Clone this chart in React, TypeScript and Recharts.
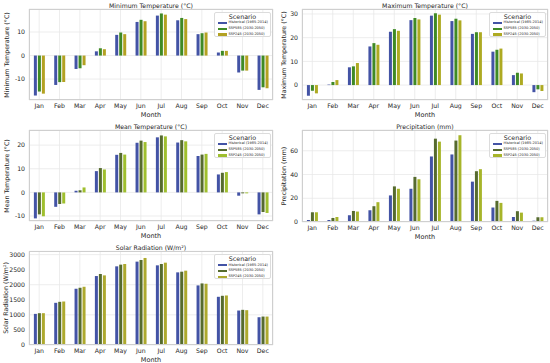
import React from "react";
import { Bar, BarChart, CartesianGrid, XAxis, YAxis } from "recharts";

const months = ["Jan", "Feb", "Mar", "Apr", "May", "Jun", "Jul", "Aug", "Sep", "Oct", "Nov", "Dec"];
const scenarios = ["Historical (1985-2014)", "SSP585 (2030-2050)", "SSP245 (2030-2050)"];

const minHist = [-17.0, -12.5, -5.7, 1.8, 8.8, 14.3, 17.0, 15.0, 9.1, 1.3, -7.2, -14.6];
const min585 = [-15.3, -11.3, -5.4, 3.1, 9.8, 15.2, 17.9, 16.0, 9.5, 2.0, -6.4, -13.5];
const min245 = [-16.2, -11.2, -4.1, 2.7, 9.1, 14.6, 17.4, 15.5, 9.8, 2.0, -6.4, -13.9];

const maxHist = [-4.5, 0.2, 7.5, 16.3, 22.5, 27.4, 29.3, 27.0, 21.6, 14.1, 4.2, -3.0];
const max585 = [-2.4, 1.3, 7.9, 17.7, 23.6, 28.3, 30.3, 28.0, 22.3, 14.9, 5.2, -1.8];
const max245 = [-3.5, 2.1, 9.3, 17.0, 22.9, 27.7, 29.7, 27.3, 22.3, 15.4, 4.9, -2.5];

const meanHist = [-11.0, -6.1, 0.7, 9.0, 15.9, 21.0, 23.3, 21.1, 15.4, 7.6, -1.4, -9.3];
const mean585 = [-9.3, -4.9, 0.9, 10.3, 16.7, 21.9, 24.1, 22.1, 16.0, 8.3, -0.4, -8.3];
const mean245 = [-10.1, -4.7, 2.1, 9.7, 16.0, 21.3, 23.7, 21.6, 16.3, 8.6, -0.4, -8.7];

const precHist = [1.7, 1.7, 5.7, 9.9, 22.4, 28.0, 55.2, 56.9, 34.0, 12.2, 4.2, 1.1];
const prec585 = [8.2, 3.4, 9.3, 13.3, 30.0, 38.0, 70.2, 68.6, 42.8, 17.8, 9.1, 4.0];
const prec245 = [8.2, 4.2, 8.8, 16.7, 28.0, 36.0, 67.7, 73.1, 44.5, 16.1, 7.9, 4.0];

const solarHist = [1033, 1400, 1867, 2289, 2611, 2767, 2644, 2411, 1978, 1600, 1144, 922];
const solar585 = [1056, 1433, 1900, 2356, 2667, 2822, 2689, 2433, 2044, 1633, 1167, 944];
const solar245 = [1056, 1444, 1933, 2311, 2689, 2889, 2733, 2467, 2033, 1644, 1156, 944];

const FONT = "'DejaVu Sans', sans-serif";
const INK = "#262626";

type PanelProps = {
  left: number;
  top: number;
  width: number;
  height: number;
  plot: { x0: number; y0: number; x1: number; y1: number };
  title: string;
  yLabel: string;
  yLabelX: number;
  domain: [number, number];
  ticks: number[];
  series: number[][];
  colors: string[];
};

function toRows(series: number[][]) {
  return months.map((m, i) => ({
    month: m,
    s0: series[0][i],
    s1: series[1][i],
    s2: series[2][i],
  }));
}

function Panel({ left, top, width, height, plot, title, yLabel, yLabelX, domain, ticks, series, colors }: PanelProps) {
  const data = toRows(series);
  const plotH = plot.y1 - plot.y0;
  return (
    <div style={{ position: "absolute", left, top, width, height }}>
      <BarChart
        width={width}
        height={height}
        data={data}
        margin={{ top: plot.y0, right: width - plot.x1, bottom: 0, left: 0 }}
        barCategoryGap="24%"
        barGap={1}
      >
        <CartesianGrid stroke="#e8e8e8" strokeWidth={0.8} />
        <XAxis
          dataKey="month"
          height={height - plot.y1}
          tickLine={false}
          axisLine={false}
          tickSize={0}
          tickMargin={4}
          interval={0}
          tick={{ fill: INK, fontSize: 6.2, fontFamily: FONT }}
        />
        <YAxis
          width={plot.x0}
          domain={domain}
          ticks={ticks}
          allowDataOverflow
          tickLine={false}
          axisLine={false}
          tickSize={0}
          tickMargin={4}
          tick={{ fill: INK, fontSize: 6.2, fontFamily: FONT }}
        />
        {["s0", "s1", "s2"].map((k, i) => (
          <Bar key={k} dataKey={k} fill={colors[i]} isAnimationActive={false} />
        ))}
      </BarChart>
      <div
        style={{
          position: "absolute",
          left: plot.x0,
          top: plot.y0,
          width: plot.x1 - plot.x0,
          height: plotH,
          border: "0.8px solid #cfcfcf",
          boxSizing: "border-box",
          pointerEvents: "none",
        }}
      />
      <div
        style={{
          position: "absolute",
          left: plot.x0,
          width: plot.x1 - plot.x0,
          top: plot.y0 - 7.5,
          textAlign: "center",
          fontSize: 6.2,
          lineHeight: "7px",
          color: INK,
          fontFamily: FONT,
        }}
      >
        {title}
      </div>
      <div
        style={{
          position: "absolute",
          left: plot.x0,
          width: plot.x1 - plot.x0,
          top: plot.y1 + 10.5,
          textAlign: "center",
          fontSize: 6.5,
          lineHeight: "8px",
          color: INK,
          fontFamily: FONT,
        }}
      >
        Month
      </div>
      <div
        style={{
          position: "absolute",
          left: yLabelX,
          top: plot.y0 + plotH / 2,
          transform: "translate(-50%, -50%) rotate(-90deg)",
          whiteSpace: "nowrap",
          fontSize: 6.3,
          lineHeight: "8px",
          color: INK,
          fontFamily: FONT,
        }}
      >
        {yLabel}
      </div>
      <div
        style={{
          position: "absolute",
          left: plot.x1 - 59,
          top: plot.y0 + 2.5,
          width: 57,
          height: 25,
          background: "rgba(255,255,255,0.85)",
          border: "0.6px solid #dcdcdc",
          borderRadius: 2,
          boxSizing: "border-box",
          fontFamily: FONT,
          color: INK,
        }}
      >
        <div style={{ textAlign: "center", fontSize: 6.3, lineHeight: "7px", marginTop: 0.5 }}>Scenario</div>
        {scenarios.map((s, i) => (
          <div key={s} style={{ display: "flex", alignItems: "center", height: 5.8, marginLeft: 3 }}>
            <div style={{ width: 8.5, height: 2.2, background: colors[i], marginRight: 2 }} />
            <div style={{ fontSize: 3.5, lineHeight: "5px", whiteSpace: "nowrap" }}>{s}</div>
          </div>
        ))}
      </div>
    </div>
  );
}

const BLUE = "#4353a5";

export default function App() {
  return (
    <div style={{ position: "absolute", left: 0, top: 0, width: 550, height: 363, background: "#fff" }}>
      <Panel
        left={0}
        top={0}
        width={275}
        height={121}
        plot={{ x0: 29, y0: 9, x1: 273, y1: 100 }}
        title="Minimum Temperature (°C)"
        yLabel="Minimum Temperature (°C)"
        yLabelX={7}
        domain={[-18.9, 19.8]}
        ticks={[-10, 0, 10]}
        series={[minHist, min585, min245]}
        colors={[BLUE, "#3f8a25", "#b3a122"]}
      />
      <Panel
        left={275}
        top={0}
        width={275}
        height={121}
        plot={{ x0: 27, y0: 9, x1: 273, y1: 100 }}
        title="Maximum Temperature (°C)"
        yLabel="Maximum Temperature (°C)"
        yLabelX={9}
        domain={[-6.3, 32.1]}
        ticks={[0, 10, 20, 30]}
        series={[maxHist, max585, max245]}
        colors={[BLUE, "#3f8a25", "#aeaa22"]}
      />
      <Panel
        left={0}
        top={121}
        width={275}
        height={121}
        plot={{ x0: 29, y0: 9, x1: 273, y1: 100 }}
        title="Mean Temperature (°C)"
        yLabel="Mean Temperature (°C)"
        yLabelX={7}
        domain={[-12.1, 26.4]}
        ticks={[-10, 0, 10, 20]}
        series={[meanHist, mean585, mean245]}
        colors={[BLUE, "#566b2e", "#9fbf2e"]}
      />
      <Panel
        left={275}
        top={121}
        width={275}
        height={121}
        plot={{ x0: 27, y0: 9, x1: 273, y1: 101 }}
        title="Precipitation (mm)"
        yLabel="Precipitation (mm)"
        yLabelX={9}
        domain={[0, 77.5]}
        ticks={[0, 20, 40, 60]}
        series={[precHist, prec585, prec245]}
        colors={[BLUE, "#566b2e", "#a7b52a"]}
      />
      <Panel
        left={0}
        top={242}
        width={275}
        height={121}
        plot={{ x0: 29, y0: 9.3, x1: 273, y1: 103 }}
        title="Solar Radiation (W/m²)"
        yLabel="Solar Radiation (W/m²)"
        yLabelX={6}
        domain={[0, 3110]}
        ticks={[0, 500, 1000, 1500, 2000, 2500, 3000]}
        series={[solarHist, solar585, solar245]}
        colors={[BLUE, "#566b2e", "#ada92e"]}
      />
    </div>
  );
}
